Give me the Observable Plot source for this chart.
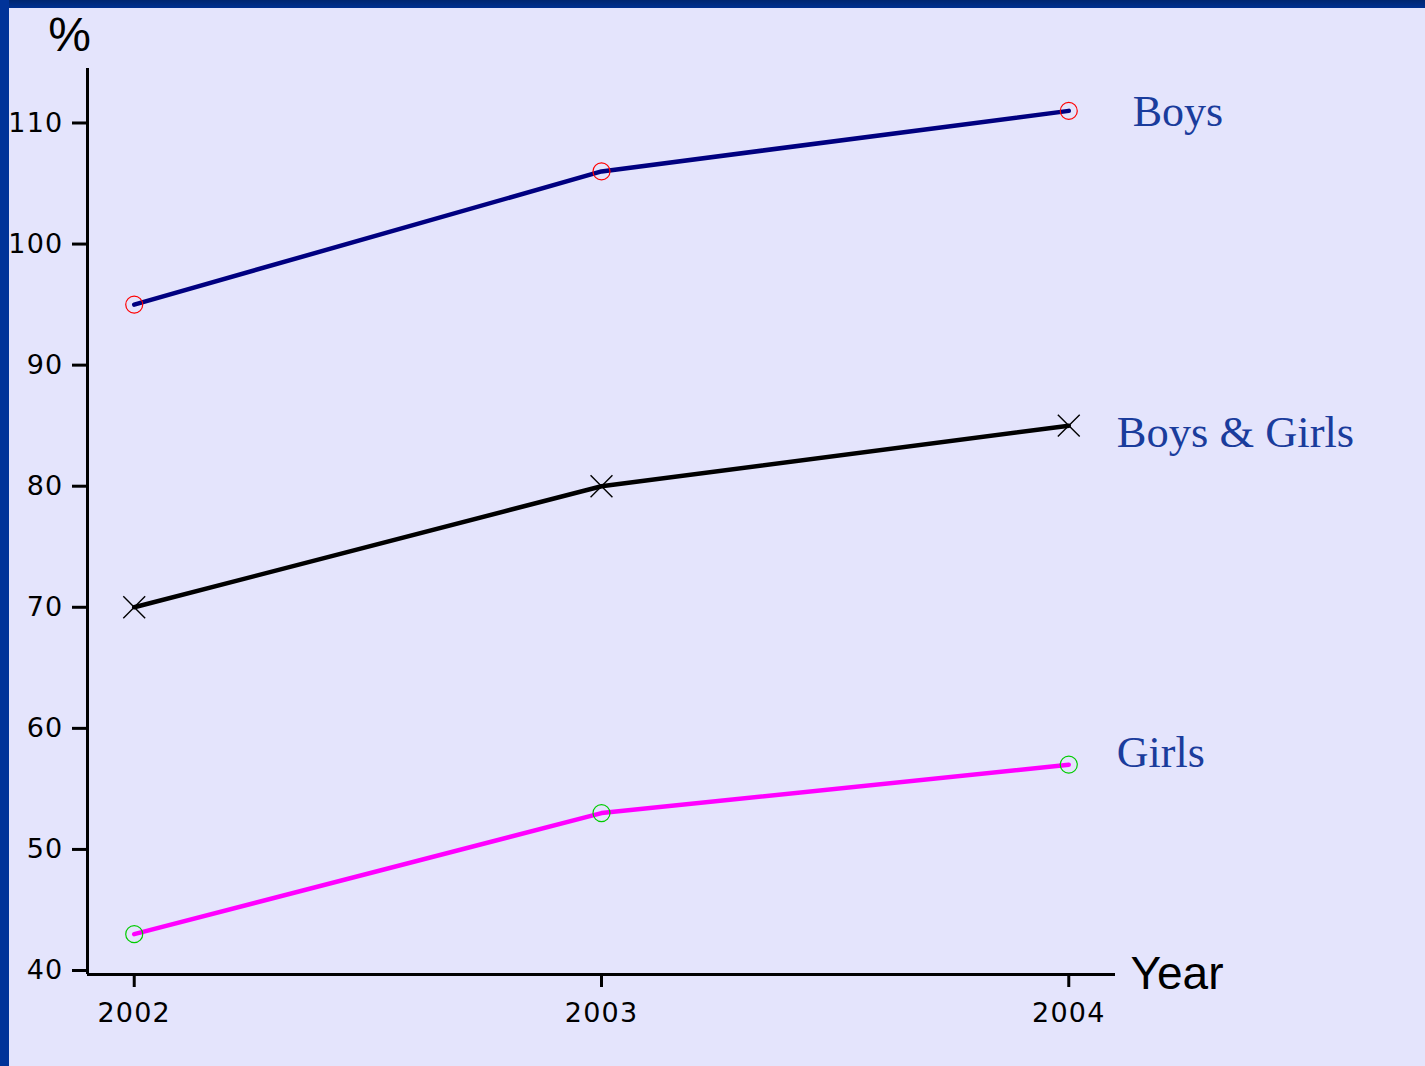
<!DOCTYPE html>
<html>
<head>
<meta charset="utf-8">
<script src="https://cdn.jsdelivr.net/npm/d3@7"></script>
<script src="https://cdn.jsdelivr.net/npm/@observablehq/plot@0.6"></script>
<style>
  html, body { margin: 0; padding: 0; background: #E4E4FC; width: 1425px; height: 1066px; overflow: hidden; }
  #chart { position: absolute; left: 0; top: 0; }
  #barTop { position: absolute; left: 0; top: 0; width: 1425px; height: 8px; background: linear-gradient(#002670, #003090); z-index: 2; }
  #barLeft { position: absolute; left: 0; top: 0; width: 9px; height: 1066px; background: #003399; z-index: 2; }
  #chart svg g[aria-label="y-axis tick label"] text,
  #chart svg g[aria-label="x-axis tick label"] text { font-family: 'DejaVu Sans', sans-serif; font-size: 27px; letter-spacing: 1.2px; }
</style>
</head>
<body>
<div id="barTop"></div>
<div id="barLeft"></div>
<div id="chart"></div>
<script>
const years = [2002, 2003, 2004];
const boys = [95, 106, 111];
const both = [70, 80, 85];
const girls = [43, 53, 57];
const yTicks = [40, 50, 60, 70, 80, 90, 100, 110];
const seriesNames = ["Boys", "Boys & Girls", "Girls"];

const boysData = years.map((y, i) => ({year: y, value: boys[i]}));
const bothData = years.map((y, i) => ({year: y, value: both[i]}));
const girlsData = years.map((y, i) => ({year: y, value: girls[i]}));

const xMin = 2001.9, xMax = 2004.1, yMin = 39.67, yMax = 114.5;
const sans = "'Liberation Sans', Arial, Helvetica, sans-serif";
const serif = "'Liberation Serif', 'Times New Roman', serif";
const labelColor = "#1a3c9c";

const chart = Plot.plot({
  width: 1425,
  height: 1066,
  marginLeft: 87,
  marginRight: 310,
  marginTop: 68,
  marginBottom: 92,
  style: {background: "transparent", fontFamily: sans},
  x: {domain: [xMin, xMax]},
  y: {domain: [yMin, yMax]},
  marks: [
    Plot.axisY({ticks: yTicks, tickSize: 15, tickPadding: 9, fontSize: 27, strokeWidth: 3, label: null, fill: "#000"}),
    Plot.axisX({ticks: years, tickSize: 13, tickPadding: 15, fontSize: 27, strokeWidth: 3, label: null, tickFormat: d => String(d), fill: "#000"}),
    Plot.ruleX([xMin], {y1: yMin, y2: yMax, stroke: "#000", strokeWidth: 3}),
    Plot.ruleY([yMin], {x1: xMin, x2: xMax, stroke: "#000", strokeWidth: 3}),
    Plot.line(boysData, {x: "year", y: "value", stroke: "#000080", strokeWidth: 4.5}),
    Plot.line(bothData, {x: "year", y: "value", stroke: "#000", strokeWidth: 4.5}),
    Plot.line(girlsData, {x: "year", y: "value", stroke: "#ff00ff", strokeWidth: 4.5}),
    Plot.dot(boysData, {x: "year", y: "value", r: 8.5, stroke: "#ff0000", strokeWidth: 1.2, fill: "none"}),
    Plot.dot(girlsData, {x: "year", y: "value", r: 8.5, stroke: "#00cc00", strokeWidth: 1.2, fill: "none"}),
    Plot.dot(bothData, {x: "year", y: "value", r: 10, symbol: "times", stroke: "#000", strokeWidth: 1.4}),
    Plot.text([seriesNames[0]], {x: () => years[2], y: () => boys[2], text: d => d, dx: 64, dy: 1, textAnchor: "start", lineAnchor: "middle", fontSize: 44, fontFamily: serif, fill: labelColor}),
    Plot.text([seriesNames[1]], {x: () => years[2], y: () => both[2], text: d => d, dx: 48, dy: 7, textAnchor: "start", lineAnchor: "middle", fontSize: 44.5, fontFamily: serif, fill: labelColor}),
    Plot.text([seriesNames[2]], {x: () => years[2], y: () => girls[2], text: d => d, dx: 48, dy: -12, textAnchor: "start", lineAnchor: "middle", fontSize: 44, fontFamily: serif, fill: labelColor}),
    Plot.text(["Year"], {x: () => xMax, y: () => yMin, text: d => d, dx: 15, textAnchor: "start", lineAnchor: "middle", fontSize: 46, fill: "#000"}),
    Plot.text(["%"], {x: () => xMin, y: () => yMax, text: d => d, dx: -18, dy: -33, textAnchor: "middle", lineAnchor: "middle", fontSize: 48, fill: "#000"})
  ]
});
document.getElementById("chart").appendChild(chart);
</script>
</body>
</html>
